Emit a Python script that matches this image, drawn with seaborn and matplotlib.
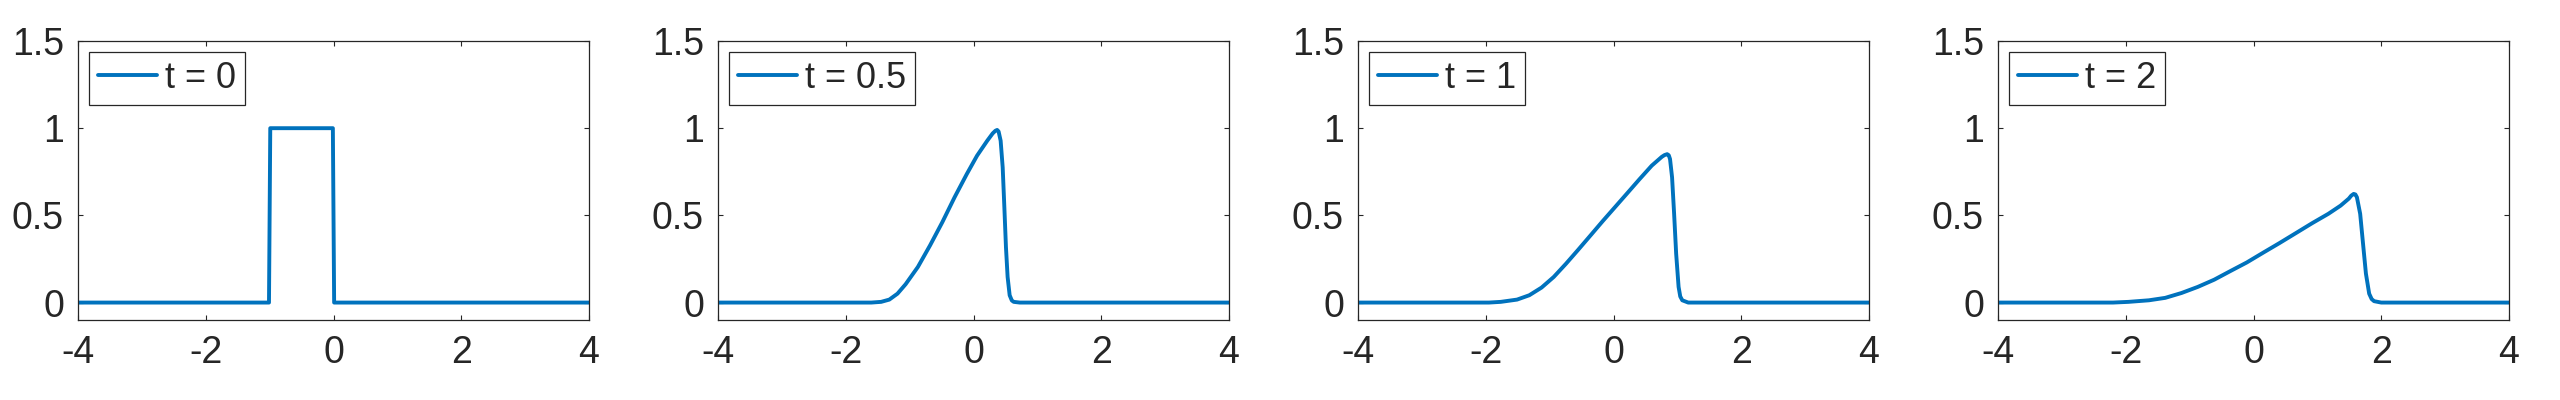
import numpy as np
import pandas as pd
import seaborn as sns
import matplotlib.pyplot as plt
from matplotlib.ticker import FuncFormatter

# values
x_t0 = [-4, -1.01, -0.99, -0.01, 0.01, 4]
u_t0 = [0, 0, 1, 1, 0, 0]

x_t05 = [-4, -1.6, -1.446, -1.318, -1.19, -1.063, -0.871, -0.68, -0.488, -0.296,
         -0.105, 0.055, 0.215, 0.30, 0.342, 0.37, 0.393, 0.425, 0.457, 0.483, 0.508,
         0.534, 0.566, 0.60, 0.63, 0.725, 4]
u_t05 = [0, 0, 0.004, 0.017, 0.051, 0.105, 0.204, 0.328, 0.461, 0.604,
         0.737, 0.842, 0.928, 0.97, 0.985, 0.99, 0.981, 0.928, 0.775, 0.547, 0.318,
         0.147, 0.042, 0.012, 0.004, 0, 0]

x_t1 = [-4, -1.95, -1.765, -1.51, -1.318, -1.126, -0.935, -0.743, -0.552, -0.36,
        -0.169, 0.023, 0.215, 0.406, 0.598, 0.757, 0.80, 0.84, 0.865, 0.885, 0.917,
        0.949, 0.981, 1.019, 1.045, 1.077, 1.17, 4]
u_t1 = [0, 0, 0.004, 0.017, 0.042, 0.086, 0.147, 0.223, 0.303, 0.385,
        0.467, 0.547, 0.627, 0.707, 0.785, 0.836, 0.846, 0.851, 0.845, 0.823, 0.718,
        0.509, 0.28, 0.09, 0.035, 0.013, 0, 0]

x_t2 = [-4, -2.2, -1.957, -1.637, -1.382, -1.126, -0.871, -0.616, -0.36, -0.105,
        0.151, 0.406, 0.662, 0.917, 1.172, 1.364, 1.492, 1.53, 1.568, 1.595, 1.619,
        1.67, 1.715, 1.76, 1.811, 1.85, 1.888, 2.0, 4]
u_t2 = [0, 0, 0.004, 0.013, 0.027, 0.055, 0.09, 0.131, 0.181, 0.23,
        0.286, 0.341, 0.398, 0.455, 0.509, 0.556, 0.596, 0.613, 0.623, 0.62, 0.604,
        0.509, 0.337, 0.166, 0.051, 0.02, 0.008, 0, 0]

labels = ["t = 0", "t = 0.5", "t = 1", "t = 2"]
xs = [x_t0, x_t05, x_t1, x_t2]
us = [u_t0, u_t05, u_t1, u_t2]

x_ticks = [-4, -2, 0, 2, 4]
y_ticks = [0, 0.5, 1, 1.5]

sns.set_style("ticks")
plt.rcParams['font.family'] = ['Liberation Sans', 'DejaVu Sans']
plt.rcParams['axes.unicode_minus'] = False
dark = "#262626"

fig, axes = plt.subplots(1, 4, figsize=(25.6, 4), dpi=100)
fig.subplots_adjust(left=78 / 2560, right=2509 / 2560, bottom=0.2, top=1 - 41 / 400,
                    wspace=129 / 511)

for ax, x, u, lab in zip(axes, xs, us, labels):
    df = pd.DataFrame({"x": x, "u": u})
    sns.lineplot(data=df, x="x", y="u", ax=ax, color="#0072BD", linewidth=2.8,
                 estimator=None, sort=False, label=lab)
    ax.set_xlim(-4, 4)
    ax.set_ylim(-0.1, 1.5)
    ax.set_xticks(x_ticks)
    ax.set_yticks(y_ticks)
    ax.xaxis.set_major_formatter(FuncFormatter(lambda v, p: "%g" % v))
    ax.yaxis.set_major_formatter(FuncFormatter(lambda v, p: "%g" % v))
    ax.set_xlabel("")
    ax.set_ylabel("")
    ax.tick_params(direction="in", top=True, right=True, length=3.6, width=0.8,
                   color=dark, labelsize=27, labelcolor=dark)
    ax.tick_params(axis="x", pad=11)
    ax.tick_params(axis="y", pad=10)
    for s in ax.spines.values():
        s.set_visible(True)
        s.set_color(dark)
        s.set_linewidth(0.9)
    leg = ax.legend(loc="upper left", fontsize=26, frameon=True, fancybox=False,
                    framealpha=1, edgecolor=dark, handlelength=1.65,
                    handletextpad=0.2, borderpad=0.25, borderaxespad=0.3)
    leg.get_frame().set_linewidth(0.9)

fig.savefig("out.png", dpi=100)
